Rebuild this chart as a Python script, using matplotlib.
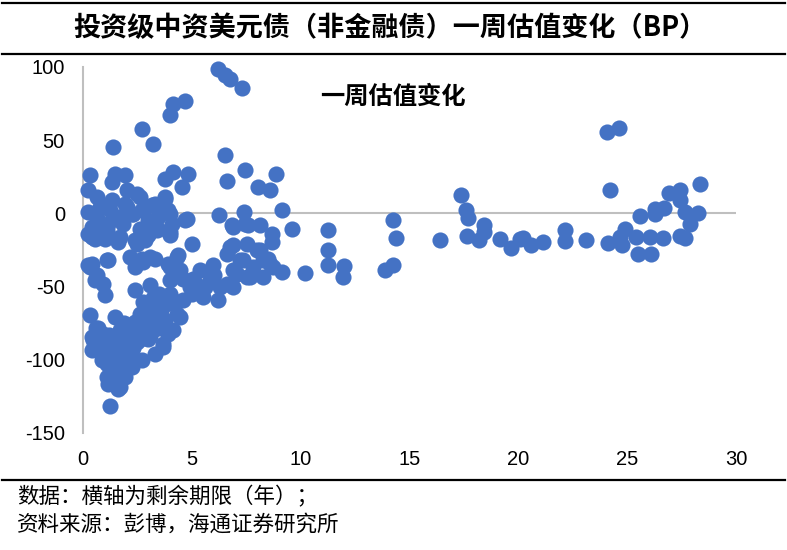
import matplotlib
matplotlib.use("Agg")
import matplotlib.pyplot as plt
from matplotlib.lines import Line2D

plt.rcParams['font.family'] = ['Liberation Sans', 'Noto Sans CJK SC', 'DejaVu Sans']

title = "投资级中资美元债（非金融债）一周估值变化（BP）"
series_name = "一周估值变化"
note1 = "数据：横轴为剩余期限（年）；"
note2 = "资料来源：彭博，海通证券研究所"
x_ticks = [0, 5, 10, 15, 20, 25, 30]
y_ticks = [-150, -100, -50, 0, 50, 100]

# remaining maturity (years)
maturity = [
    # long end
    10.2, 11.24, 11.24, 11.27, 12.0, 11.96, 14.25, 14.36, 14.22, 13.87, 16.4,
    17.38, 17.6, 17.7, 17.65, 18.2, 18.4, 18.4, 19.15, 19.66, 20.07, 20.2,
    20.6, 21.15, 22.14, 22.14, 23.1, 24.08, 24.64, 24.2, 24.13, 24.67, 24.74,
    24.9, 25.4, 25.5, 25.6, 26.05, 26.1, 26.3, 26.3, 26.66, 26.7, 26.9,
    27.42, 27.42, 27.42, 27.65, 27.65, 27.9, 28.26, 28.34,
    # 5-10 years
    6.22, 6.52, 6.75, 7.29, 6.52, 7.44, 6.63, 8.05, 8.59, 8.87, 9.13, 7.4,
    6.26, 9.6, 9.13, 6.83, 7.44, 8.13, 8.67, 8.67, 6.9, 7.6, 6.6, 6.9, 7.52,
    8.13, 8.59, 6.9, 7.52, 6.6, 7.21, 7.82, 8.28, 8.51, 6.75, 7.98, 7.36,
    8.28, 8.74, 7.06, 7.67, 6.9, 6.29, 5.83, 5.37, 5.98, 6.21, 5.53, 5.07,
    4.92, 4.61, 4.46, 4.15, 4.3, 4.99, 4.69, 4.76,
    # short end, upper
    4.69, 4.15, 4.0, 1.39, 2.7, 3.23, 4.84, 4.15, 4.53, 3.77, 3.77, 3.77,
    3.31, 0.32, 0.24, 1.47, 1.93, 1.32, 2.0, 2.47, 2.62, 0.63, 0.78, 1.24,
    2.0, 2.31, 1.85, 3.15, 3.54, 4.0, 4.0, 3.38, 2.62, 2.85, 2.47, 1.7,
    1.09, 0.55, 1.55, 0.24, 0.4, 0.86, 1.32, 1.93, 1.62, 2.24, 2.7, 3.0,
    3.46, 3.92, 4.07, 0.4, 1.01, 1.62, 2.39, 3.0, 4.0, 0.4, 1.16, 0.7,
    2.85, 3.46, 3.0, 1.62, 0.47, 0.24, 0.23,
    # short end, middle
    0.4, 1.16, 2.16, 2.7, 3.31, 3.92, 4.38, 0.63, 0.93, 1.01, 1.09, 2.39,
    2.77, 3.08, 2.39, 3.08, 2.77, 4.3, 4.46, 4.0, 4.0, 4.0, 0.55, 0.32,
    3.5, 3.8, 4.2, 5.0, 5.6, 6.0, 4.6, 5.2, 3.2, 2.9, 3.6,
    # short end, lower
    0.32, 1.47, 0.47, 0.93, 0.63, 1.24, 2.0, 2.47, 2.93, 3.23, 3.69, 3.54,
    3.38, 2.62, 1.7, 2.0, 1.09, 1.55, 1.85, 1.39, 1.09, 1.7, 1.24, 0.4,
    0.4, 0.86, 1.16, 1.62, 1.93, 2.24, 2.7, 3.31, 3.69, 3.92, 3.77, 3.31,
    2.7, 1.4, 1.8, 2.3, 2.8, 1.0, 0.7, 1.5, 2.2, 3.0,
    0.6, 1.2, 1.9, 2.5, 3.1, 1.3, 2.1, 2.6, 0.9, 1.6, 2.4, 3.5, 1.0, 1.8,
]

# one-week valuation change (bp)
change = [
    # long end
    -41, -11, -25, -35.5, -36, -43.5, -4.3, -16.6, -35, -39, -18.4,
    12.8, 2.5, -3, -15.7, -18.4, -8.2, -12.8, -17.3, -23.4, -17.3, -16.6,
    -21.9, -19.6, -11.6, -18.9, -18.4, 55.5, 58.3, 16.2, -20.3, -16.2, -21.9,
    -10.5, -16.2, -27.5, -2, -16.2, -27.5, 3.2, -0.2, -16.6, 3.9, 13.9,
    15.7, 8.9, -15.7, -16.6, 0.9, -7, 0.2, 19.8,
    # 5-10 years
    98.4, 94.7, 91.5, 85.9, 39.6, 29.4, 21.9, 18, 15.7, 26.6, 2.5, 0.9,
    -0.9, -10.9, -40, -8.2, -7, -8.2, -13.9, -19.6, -9.4, -8.2, -27.5, -21.9, -20.7,
    -25.3, -34.4, -38.9, -43.5, -48, -32.1, -36.7, -43.5, -30.9, -23, -25.3, -32.1,
    -32.1, -36.7, -41.2, -43.5, -50.3, -50.3, -45.8, -38.9, -35.5, -59.4, -57.2, -44.6,
    -50.3, -59.4, -70.8, -79.9, -68.5, -20.7, -4.8, -3.6,
    # short end, upper
    76.5, 74.9, 67, 45.3, 57.4, 47.6, 27.1, 28.2, 18, 23.7, 11.1, 10,
    6.6, 26.5, 15.7, 27.1, 26, 21.4, 15.7, 13.5, 11.1, 11.1, 4.3, 2,
    4.3, -0.2, -7, 5.5, 4.3, -0.2, -12.8, -11.6, -10.5, -18.4, -20.7, -16.2,
    -11.6, -17.3, -3.6, 0.9, -11.6, 4.3, 8.9, 6.6, -2.5, -0.2, 2, -4.8,
    -2.5, 2, -7, -16.2, -17.3, -18.4, -18.4, -15, -15, -9.4, -7, -4.8,
    -10.5, -10.5, -13.9, -19.6, -16.2, -14, -35.5,
    # short end, middle
    -34.4, -32.1, -29.8, -30.9, -30.9, -34.4, -28.7, -42.3, -48, -56, -32.1, -36.7,
    -33.3, -29.8, -52.6, -49.2, -60.6, -29.8, -38.9, -45.8, -54.9, -36.7, -45.8, -36.7,
    -55, -62, -60, -55, -50, -42, -45, -48, -58, -65, -66,
    # short end, lower
    -69.7, -70.8, -86.7, -82.2, -93.6, -91.3, -82.2, -77.7, -73.1, -79.9, -89, -73.1,
    -64, -68.5, -79.9, -91.3, -102.7, -107.2, -98.2, -116.3, -111.8, -118.6, -131.5, -84.3,
    -93.6, -100.4, -116.3, -119.7, -111.8, -105, -100.4, -95.8, -91.3, -82.2, -73.1, -68.5,
    -70.8, -95, -88, -92, -85, -90, -78, -100, -96, -86,
    -78, -83, -75, -88, -84, -98, -93, -80, -90, -87, -74, -78, -95, -104,
]

W, H = 787, 550
fig = plt.figure(figsize=(W / 100, H / 100), dpi=100)
ax = fig.add_axes([83 / W, 1 - 433 / H, (736 - 83) / W, (433 - 67) / H])

ax.scatter(maturity, change, s=135, color='#4472C4', linewidths=0, zorder=3,
           clip_on=False)

ax.set_xlim(0, 30)
ax.set_ylim(-150, 100)
ax.set_xticks(x_ticks)
ax.set_yticks(y_ticks)
ax.set_xticklabels([str(t) for t in x_ticks])
ax.set_yticklabels([str(t) for t in y_ticks])
ax.tick_params(axis='both', length=0, labelsize=14.5, colors='black')
ax.tick_params(axis='x', pad=12)
ax.tick_params(axis='y', pad=13)

for s in ['top', 'right', 'bottom']:
    ax.spines[s].set_visible(False)
ax.spines['left'].set_color('#BFBFBF')
ax.spines['left'].set_linewidth(1.5)
ax.spines['left'].set_zorder(2)
ax.axhline(0, color='#BFBFBF', linewidth=1.5, zorder=1)

cjk = ['Noto Sans CJK SC', 'DejaVu Sans']
fig.text(0.495, 1 - 28 / H, title, ha='center', va='center', fontsize=19.5,
         fontweight='bold', family=cjk)
fig.text(393 / W, 1 - 97 / H, series_name, ha='center', va='center',
         fontsize=17.5, fontweight='bold', family=cjk)
fig.text(17 / W, 1 - 497 / H, note1, ha='left', va='center', fontsize=15.5, family=cjk)
fig.text(17 / W, 1 - 525 / H, note2, ha='left', va='center', fontsize=15.5, family=cjk)

for yp in [3, 54, 480]:
    fig.add_artist(Line2D([0.003, 0.997], [1 - yp / H, 1 - yp / H], color='black',
                          linewidth=1.6, transform=fig.transFigure))

fig.savefig('out.png', dpi=100)
